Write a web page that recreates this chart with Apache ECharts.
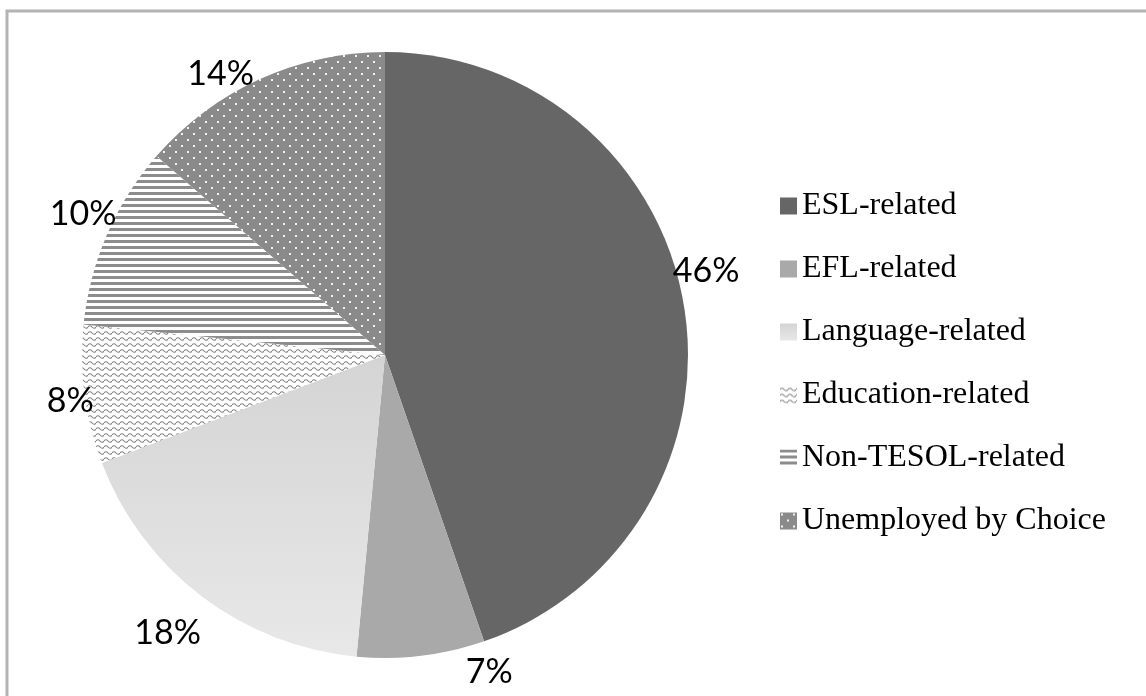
<!DOCTYPE html>
<html>
<head>
<meta charset="utf-8">
<script src="https://cdn.jsdelivr.net/npm/echarts@6/dist/echarts.min.js"></script>
<style>
    html, body { margin: 0; padding: 0; background: #fff; }
    #main { width: 1146px; height: 696px; }
</style>
</head>
<body>
<div id="main"></div>
<script>
var categories = ['ESL-related', 'EFL-related', 'Language-related', 'Education-related', 'Non-TESOL-related', 'Unemployed by Choice'];
var values = [44.7, 6.8, 17.7, 7.4, 9.8, 13.6];
var labelTexts = ['46%', '7%', '18%', '8%', '10%', '14%'];

// label nudges, like the "best fit" placement of the original
var labelNudge = [[-22, -33], [39, 10], [8, 32], [20, 5], [20, -18], [2, 0]];

// small canvas tiles for the hatch fills
function makeTile(w, h, bg, draw) {
    var c = document.createElement('canvas');
    c.width = w;
    c.height = h;
    var ctx = c.getContext('2d');
    ctx.fillStyle = bg;
    ctx.fillRect(0, 0, w, h);
    draw(ctx);
    return c;
}

var stripeTile = makeTile(6, 6, '#ffffff', function (ctx) {
    ctx.fillStyle = '#8c8c8c';
    ctx.fillRect(0, 0, 6, 3);
});

var dotTile = makeTile(12, 12, '#8a8a8a', function (ctx) {
    ctx.fillStyle = '#f2f2f2';
    ctx.fillRect(1, 1, 2, 2);
    ctx.fillRect(7, 7, 2, 2);
});

var waveTile = makeTile(8, 6, '#ffffff', function (ctx) {
    ctx.strokeStyle = '#858585';
    ctx.lineWidth = 1.2;
    ctx.beginPath();
    ctx.moveTo(0, 3);
    ctx.quadraticCurveTo(2, 0.5, 4, 3);
    ctx.quadraticCurveTo(6, 5.5, 8, 3);
    ctx.stroke();
});

var fills = [
    '#666666',
    '#a9a9a9',
    new echarts.graphic.LinearGradient(0, 0, 0, 1, [
        { offset: 0, color: '#d4d4d4' },
        { offset: 1, color: '#e8e8e8' }
    ]),
    { image: waveTile, repeat: 'repeat' },
    { image: stripeTile, repeat: 'repeat' },
    { image: dotTile, repeat: 'repeat' }
];

var pieData = categories.map(function (name, i) {
    return {
        name: name,
        value: values[i],
        itemStyle: { color: fills[i] }
    };
});

var myChart = echarts.init(document.getElementById('main'));

var option = {
    animation: false,
    backgroundColor: '#ffffff',
    graphic: [{
        type: 'rect',
        shape: { x: 7, y: 11, width: 1200, height: 800 },
        style: { fill: 'none', stroke: '#b3b3b3', lineWidth: 3 },
        silent: true
    }],
    legend: {
        orient: 'vertical',
        left: 775,
        top: 185,
        icon: 'rect',
        itemWidth: 17,
        itemHeight: 17,
        itemGap: 31,
        selectedMode: false,
        textStyle: {
            fontFamily: 'Liberation Serif',
            fontSize: 32,
            lineHeight: 32,
            color: '#000'
        },
        data: categories
    },
    series: [{
        type: 'pie',
        center: [385, 355],
        radius: 303,
        startAngle: 90,
        clockwise: true,
        silent: true,
        label: {
            show: true,
            position: 'outside',
            fontFamily: 'Lato',
            fontSize: 34,
            color: '#000',
            formatter: function (p) {
                return labelTexts[p.dataIndex];
            }
        },
        labelLine: {
            show: false,
            length: 6,
            length2: 0
        },
        labelLayout: function (params) {
            var n = labelNudge[params.dataIndex];
            return { dx: n[0], dy: n[1] };
        },
        itemStyle: { borderWidth: 0 },
        data: pieData
    }]
};

myChart.setOption(option);
</script>
</body>
</html>
